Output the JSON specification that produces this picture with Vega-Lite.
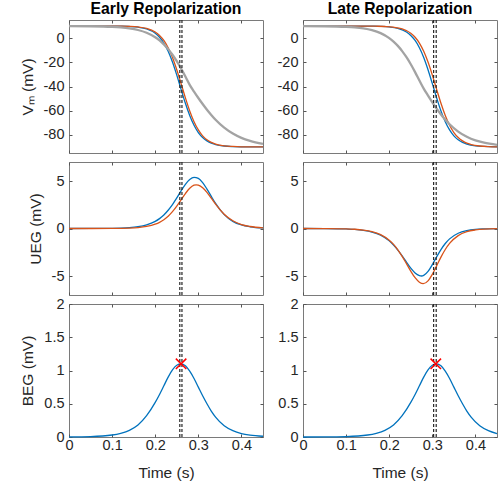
{
"$schema": "https://vega.github.io/schema/vega-lite/v6.json",
"autosize": {"type": "pad"},
"padding": {"left": 19, "top": 0, "right": 3, "bottom": 2},
"background": "white",
"config": {
  "view": {"stroke": "#7a7a7a", "strokeWidth": 1},
  "axis": {"grid": false, "domain": false, "ticks": true, "tickSize": -3, "tickColor": "#555555", "tickWidth": 1,
    "labelFont": "Liberation Sans", "labelFontSize": 14.5, "labelColor": "#262626",
    "labelFlush": false, "labelOverlap": false,
    "titleFont": "Liberation Sans", "titleFontSize": 15.5, "titleFontWeight": "normal", "titleColor": "#262626"},
  "axisX": {"labelPadding": 4, "titlePadding": 14},
  "axisY": {"labelPadding": 8, "titlePadding": 8},
  "title": {"font": "Liberation Sans", "fontSize": 15.7, "fontWeight": "bold", "color": "#000000", "offset": 2}
},
"datasets": {
  "vmEb": [{"t":0,"v":10},{"t":0.05,"v":10},{"t":0.1,"v":9.95},{"t":0.12,"v":9.86},{"t":0.14,"v":9.64},{"t":0.16,"v":9.07},{"t":0.18,"v":7.62},{"t":0.2,"v":4.06},{"t":0.21,"v":0.77},{"t":0.22,"v":-4.06},{"t":0.23,"v":-10.87},{"t":0.24,"v":-19.8},{"t":0.25,"v":-30.6},{"t":0.26,"v":-42.4},{"t":0.27,"v":-53.9},{"t":0.28,"v":-64},{"t":0.29,"v":-72.1},{"t":0.3,"v":-78.1},{"t":0.31,"v":-82.2},{"t":0.32,"v":-85},{"t":0.33,"v":-86.9},{"t":0.34,"v":-88},{"t":0.36,"v":-89.2},{"t":0.38,"v":-89.7},{"t":0.4,"v":-89.9},{"t":0.42,"v":-90},{"t":0.45,"v":-90}],
  "vmEo": [{"t":0,"v":10},{"t":0.05,"v":10},{"t":0.1,"v":9.96},{"t":0.12,"v":9.88},{"t":0.14,"v":9.7},{"t":0.16,"v":9.23},{"t":0.18,"v":8.03},{"t":0.2,"v":5.04},{"t":0.21,"v":2.24},{"t":0.22,"v":-1.92},{"t":0.23,"v":-7.89},{"t":0.24,"v":-15.96},{"t":0.25,"v":-26.1},{"t":0.26,"v":-37.6},{"t":0.27,"v":-49.4},{"t":0.28,"v":-60.2},{"t":0.29,"v":-69.1},{"t":0.3,"v":-75.9},{"t":0.31,"v":-80.8},{"t":0.32,"v":-84.1},{"t":0.33,"v":-86.2},{"t":0.34,"v":-87.6},{"t":0.36,"v":-89.1},{"t":0.38,"v":-89.6},{"t":0.4,"v":-89.9},{"t":0.42,"v":-90},{"t":0.45,"v":-90}],
  "vmEg": [{"t":0,"v":9.96},{"t":0.05,"v":9.84},{"t":0.1,"v":9.37},{"t":0.12,"v":8.9},{"t":0.14,"v":8.1},{"t":0.16,"v":6.73},{"t":0.18,"v":4.44},{"t":0.2,"v":0.7},{"t":0.21,"v":-1.92},{"t":0.22,"v":-5.15},{"t":0.23,"v":-9.08},{"t":0.24,"v":-13.75},{"t":0.25,"v":-19.1},{"t":0.26,"v":-25.2},{"t":0.27,"v":-31.7},{"t":0.28,"v":-38.6},{"t":0.29,"v":-44.2},{"t":0.3,"v":-49.5},{"t":0.31,"v":-54.5},{"t":0.32,"v":-59.2},{"t":0.33,"v":-63.5},{"t":0.34,"v":-67.5},{"t":0.36,"v":-74},{"t":0.38,"v":-78.9},{"t":0.4,"v":-82.5},{"t":0.42,"v":-85},{"t":0.45,"v":-87.5}],
  "vmLb": [{"t":0,"v":10},{"t":0.1,"v":10},{"t":0.14,"v":9.96},{"t":0.16,"v":9.88},{"t":0.18,"v":9.7},{"t":0.2,"v":9.23},{"t":0.22,"v":8.03},{"t":0.24,"v":5.04},{"t":0.25,"v":2.24},{"t":0.26,"v":-1.92},{"t":0.27,"v":-7.89},{"t":0.28,"v":-15.96},{"t":0.29,"v":-26.1},{"t":0.3,"v":-37.6},{"t":0.31,"v":-49.4},{"t":0.32,"v":-60.2},{"t":0.33,"v":-69.1},{"t":0.34,"v":-75.9},{"t":0.35,"v":-80.8},{"t":0.36,"v":-84.1},{"t":0.37,"v":-86.2},{"t":0.38,"v":-87.6},{"t":0.4,"v":-89.1},{"t":0.42,"v":-89.6},{"t":0.45,"v":-89.9}],
  "vmLo": [{"t":0,"v":10},{"t":0.1,"v":10},{"t":0.15,"v":9.95},{"t":0.17,"v":9.86},{"t":0.19,"v":9.64},{"t":0.21,"v":9.07},{"t":0.23,"v":7.62},{"t":0.25,"v":4.06},{"t":0.26,"v":0.77},{"t":0.27,"v":-4.06},{"t":0.28,"v":-10.87},{"t":0.29,"v":-19.8},{"t":0.3,"v":-30.6},{"t":0.31,"v":-42.4},{"t":0.32,"v":-53.9},{"t":0.33,"v":-64},{"t":0.34,"v":-72.1},{"t":0.35,"v":-78.1},{"t":0.36,"v":-82.2},{"t":0.37,"v":-85},{"t":0.38,"v":-86.9},{"t":0.39,"v":-88},{"t":0.41,"v":-89.2},{"t":0.43,"v":-89.7},{"t":0.45,"v":-89.9}],
  "vmLg": [{"t":0,"v":9.96},{"t":0.05,"v":9.85},{"t":0.1,"v":9.37},{"t":0.12,"v":8.89},{"t":0.14,"v":8.04},{"t":0.16,"v":6.59},{"t":0.18,"v":4.11},{"t":0.2,"v":0.02},{"t":0.21,"v":-2.85},{"t":0.22,"v":-6.4},{"t":0.23,"v":-10.7},{"t":0.24,"v":-15.8},{"t":0.25,"v":-21.6},{"t":0.26,"v":-28.1},{"t":0.27,"v":-35},{"t":0.28,"v":-41.7},{"t":0.29,"v":-47.5},{"t":0.3,"v":-53.1},{"t":0.31,"v":-58.3},{"t":0.32,"v":-63.1},{"t":0.33,"v":-67.4},{"t":0.34,"v":-71.2},{"t":0.36,"v":-77.3},{"t":0.38,"v":-81.6},{"t":0.4,"v":-84.6},{"t":0.42,"v":-86.5},{"t":0.45,"v":-88.2}],
  "uEb": [{"t":0,"v":0},{"t":0.05,"v":0.004},{"t":0.1,"v":0.023},{"t":0.12,"v":0.046},{"t":0.14,"v":0.094},{"t":0.16,"v":0.19},{"t":0.18,"v":0.38},{"t":0.2,"v":0.75},{"t":0.21,"v":1.04},{"t":0.22,"v":1.42},{"t":0.23,"v":1.92},{"t":0.24,"v":2.51},{"t":0.25,"v":3.22},{"t":0.26,"v":3.96},{"t":0.27,"v":4.65},{"t":0.28,"v":5.16},{"t":0.29,"v":5.39},{"t":0.3,"v":5.28},{"t":0.31,"v":4.83},{"t":0.32,"v":4.15},{"t":0.33,"v":3.39},{"t":0.34,"v":2.64},{"t":0.36,"v":1.46},{"t":0.38,"v":0.75},{"t":0.4,"v":0.37},{"t":0.42,"v":0.18},{"t":0.45,"v":0.06}],
  "uEo": [{"t":0,"v":0},{"t":0.05,"v":0.002},{"t":0.1,"v":0.01},{"t":0.12,"v":0.022},{"t":0.14,"v":0.047},{"t":0.16,"v":0.101},{"t":0.18,"v":0.216},{"t":0.2,"v":0.455},{"t":0.21,"v":0.65},{"t":0.22,"v":0.92},{"t":0.23,"v":1.29},{"t":0.24,"v":1.77},{"t":0.25,"v":2.35},{"t":0.26,"v":3.02},{"t":0.27,"v":3.68},{"t":0.28,"v":4.24},{"t":0.29,"v":4.56},{"t":0.295,"v":4.6},{"t":0.3,"v":4.56},{"t":0.31,"v":4.29},{"t":0.32,"v":3.8},{"t":0.33,"v":3.19},{"t":0.34,"v":2.56},{"t":0.36,"v":1.5},{"t":0.38,"v":0.81},{"t":0.4,"v":0.41},{"t":0.42,"v":0.21},{"t":0.45,"v":0.07}],
  "uLb": [{"t":0,"v":0},{"t":0.05,"v":-0.01},{"t":0.1,"v":-0.05},{"t":0.12,"v":-0.09},{"t":0.14,"v":-0.19},{"t":0.16,"v":-0.37},{"t":0.18,"v":-0.7},{"t":0.2,"v":-1.3},{"t":0.21,"v":-1.74},{"t":0.22,"v":-2.27},{"t":0.23,"v":-2.88},{"t":0.24,"v":-3.54},{"t":0.25,"v":-4.18},{"t":0.26,"v":-4.68},{"t":0.27,"v":-4.96},{"t":0.275,"v":-5},{"t":0.28,"v":-4.94},{"t":0.29,"v":-4.52},{"t":0.3,"v":-3.8},{"t":0.31,"v":-2.98},{"t":0.32,"v":-2.22},{"t":0.33,"v":-1.58},{"t":0.34,"v":-1.09},{"t":0.36,"v":-0.5},{"t":0.38,"v":-0.22},{"t":0.4,"v":-0.09},{"t":0.42,"v":-0.04},{"t":0.45,"v":-0.01}],
  "uLo": [{"t":0,"v":0},{"t":0.05,"v":-0.01},{"t":0.1,"v":-0.04},{"t":0.12,"v":-0.08},{"t":0.14,"v":-0.16},{"t":0.16,"v":-0.32},{"t":0.18,"v":-0.64},{"t":0.2,"v":-1.23},{"t":0.21,"v":-1.67},{"t":0.22,"v":-2.24},{"t":0.23,"v":-2.93},{"t":0.24,"v":-3.7},{"t":0.25,"v":-4.49},{"t":0.26,"v":-5.18},{"t":0.27,"v":-5.65},{"t":0.279,"v":-5.8},{"t":0.29,"v":-5.51},{"t":0.3,"v":-4.82},{"t":0.31,"v":-3.93},{"t":0.32,"v":-3.01},{"t":0.33,"v":-2.21},{"t":0.34,"v":-1.57},{"t":0.36,"v":-0.75},{"t":0.38,"v":-0.34},{"t":0.4,"v":-0.15},{"t":0.42,"v":-0.06},{"t":0.45,"v":-0.02}],
  "bE": [{"t":0,"v":0.001},{"t":0.05,"v":0.006},{"t":0.1,"v":0.03},{"t":0.12,"v":0.056},{"t":0.14,"v":0.1},{"t":0.16,"v":0.18},{"t":0.18,"v":0.32},{"t":0.2,"v":0.52},{"t":0.21,"v":0.64},{"t":0.22,"v":0.77},{"t":0.23,"v":0.9},{"t":0.24,"v":1.01},{"t":0.25,"v":1.08},{"t":0.26,"v":1.1},{"t":0.27,"v":1.07},{"t":0.28,"v":0.99},{"t":0.29,"v":0.88},{"t":0.3,"v":0.75},{"t":0.31,"v":0.62},{"t":0.32,"v":0.5},{"t":0.33,"v":0.39},{"t":0.34,"v":0.3},{"t":0.36,"v":0.17},{"t":0.38,"v":0.096},{"t":0.4,"v":0.052},{"t":0.42,"v":0.028},{"t":0.45,"v":0.011}],
  "bL": [{"t":0,"v":0},{"t":0.05,"v":0.001},{"t":0.1,"v":0.006},{"t":0.15,"v":0.03},{"t":0.17,"v":0.056},{"t":0.19,"v":0.1},{"t":0.21,"v":0.18},{"t":0.23,"v":0.32},{"t":0.25,"v":0.52},{"t":0.26,"v":0.64},{"t":0.27,"v":0.77},{"t":0.28,"v":0.9},{"t":0.29,"v":1.01},{"t":0.3,"v":1.08},{"t":0.31,"v":1.1},{"t":0.32,"v":1.07},{"t":0.33,"v":0.99},{"t":0.34,"v":0.88},{"t":0.35,"v":0.75},{"t":0.36,"v":0.62},{"t":0.37,"v":0.5},{"t":0.38,"v":0.39},{"t":0.39,"v":0.3},{"t":0.41,"v":0.17},{"t":0.43,"v":0.096},{"t":0.45,"v":0.052}],
  "dE": [{"t":0.257},{"t":0.262}],
  "dL": [{"t":0.303},{"t":0.309}],
  "xE": [{"t":0.26,"v":1.1}],
  "xL": [{"t":0.308,"v":1.1}]
},
"columns": 2,
"bounds": "flush",
"spacing": {"row": 9, "column": 40},
"concat": [
 {"width":194,"height":133,"title":{"text":"Early Repolarization"},
  "layer":[
   {"data":{"name":"vmEb"},"mark":{"type":"line","color":"#0072BD","strokeWidth":1.3,"interpolate":"monotone"},
    "encoding":{"x":{"field":"t","type":"quantitative","scale":{"domain":[0,0.45],"nice":false},"axis":{"values":[0,0.1,0.2,0.3,0.4],"labels":false,"title":null}},
                "y":{"field":"v","type":"quantitative","scale":{"domain":[-95,15],"nice":false,"zero":false},"axis":{"values":[-80,-60,-40,-20,0],"title":"Vₘ (mV)","labelExpr":"'' + datum.value"}}}},
   {"data":{"name":"vmEo"},"mark":{"type":"line","color":"#D95319","strokeWidth":1.3,"interpolate":"monotone"},
    "encoding":{"x":{"field":"t","type":"quantitative","scale":{"domain":[0,0.45],"nice":false},"axis":null},"y":{"field":"v","type":"quantitative","scale":{"domain":[-95,15],"nice":false,"zero":false},"axis":null}}},
   {"data":{"name":"vmEg"},"mark":{"type":"line","color":"#A3A3A3","strokeWidth":2.3,"interpolate":"monotone"},
    "encoding":{"x":{"field":"t","type":"quantitative","scale":{"domain":[0,0.45],"nice":false},"axis":null},"y":{"field":"v","type":"quantitative","scale":{"domain":[-95,15],"nice":false,"zero":false},"axis":null}}},
   {"data":{"name":"dE"},"mark":{"type":"rule","color":"#262626","strokeWidth":1.2,"strokeDash":[3,2]},
    "encoding":{"x":{"field":"t","type":"quantitative","scale":{"domain":[0,0.45],"nice":false},"axis":null}}},
   {"data":{"name":"vmEb"},"mark":{"type":"line","opacity":0},
    "encoding":{"x":{"field":"t","type":"quantitative","scale":{"domain":[0,0.45],"nice":false},"axis":{"orient":"top","values":[0,0.1,0.2,0.3,0.4],"labels":false,"title":null}},
                "y":{"field":"v","type":"quantitative","scale":{"domain":[-95,15],"nice":false,"zero":false},"axis":{"orient":"right","values":[-80,-60,-40,-20,0],"labels":false,"title":null}}}}
  ],
  "resolve":{"axis":{"x":"independent","y":"independent"}}},
 {"width":194,"height":133,"title":{"text":"Late Repolarization"},
  "layer":[
   {"data":{"name":"vmLb"},"mark":{"type":"line","color":"#0072BD","strokeWidth":1.3,"interpolate":"monotone"},
    "encoding":{"x":{"field":"t","type":"quantitative","scale":{"domain":[0,0.45],"nice":false},"axis":{"values":[0,0.1,0.2,0.3,0.4],"labels":false,"title":null}},
                "y":{"field":"v","type":"quantitative","scale":{"domain":[-95,15],"nice":false,"zero":false},"axis":{"values":[-80,-60,-40,-20,0],"title":null,"labelExpr":"'' + datum.value"}}}},
   {"data":{"name":"vmLo"},"mark":{"type":"line","color":"#D95319","strokeWidth":1.3,"interpolate":"monotone"},
    "encoding":{"x":{"field":"t","type":"quantitative","scale":{"domain":[0,0.45],"nice":false},"axis":null},"y":{"field":"v","type":"quantitative","scale":{"domain":[-95,15],"nice":false,"zero":false},"axis":null}}},
   {"data":{"name":"vmLg"},"mark":{"type":"line","color":"#A3A3A3","strokeWidth":2.3,"interpolate":"monotone"},
    "encoding":{"x":{"field":"t","type":"quantitative","scale":{"domain":[0,0.45],"nice":false},"axis":null},"y":{"field":"v","type":"quantitative","scale":{"domain":[-95,15],"nice":false,"zero":false},"axis":null}}},
   {"data":{"name":"dL"},"mark":{"type":"rule","color":"#262626","strokeWidth":1.2,"strokeDash":[3,2]},
    "encoding":{"x":{"field":"t","type":"quantitative","scale":{"domain":[0,0.45],"nice":false},"axis":null}}},
   {"data":{"name":"vmLb"},"mark":{"type":"line","opacity":0},
    "encoding":{"x":{"field":"t","type":"quantitative","scale":{"domain":[0,0.45],"nice":false},"axis":{"orient":"top","values":[0,0.1,0.2,0.3,0.4],"labels":false,"title":null}},
                "y":{"field":"v","type":"quantitative","scale":{"domain":[-95,15],"nice":false,"zero":false},"axis":{"orient":"right","values":[-80,-60,-40,-20,0],"labels":false,"title":null}}}}
  ],
  "resolve":{"axis":{"x":"independent","y":"independent"}}},
 {"width":194,"height":133,
  "layer":[
   {"data":{"name":"uEb"},"mark":{"type":"line","color":"#0072BD","strokeWidth":1.3,"interpolate":"monotone"},
    "encoding":{"x":{"field":"t","type":"quantitative","scale":{"domain":[0,0.45],"nice":false},"axis":{"values":[0,0.1,0.2,0.3,0.4],"labels":false,"title":null}},
                "y":{"field":"v","type":"quantitative","scale":{"domain":[-7,7],"nice":false,"zero":false},"axis":{"values":[-5,0,5],"title":"UEG (mV)","labelExpr":"'' + datum.value"}}}},
   {"data":{"name":"uEo"},"mark":{"type":"line","color":"#D95319","strokeWidth":1.3,"interpolate":"monotone"},
    "encoding":{"x":{"field":"t","type":"quantitative","scale":{"domain":[0,0.45],"nice":false},"axis":null},"y":{"field":"v","type":"quantitative","scale":{"domain":[-7,7],"nice":false,"zero":false},"axis":null}}},
   {"data":{"name":"dE"},"mark":{"type":"rule","color":"#262626","strokeWidth":1.2,"strokeDash":[3,2]},
    "encoding":{"x":{"field":"t","type":"quantitative","scale":{"domain":[0,0.45],"nice":false},"axis":null}}},
   {"data":{"name":"uEb"},"mark":{"type":"line","opacity":0},
    "encoding":{"x":{"field":"t","type":"quantitative","scale":{"domain":[0,0.45],"nice":false},"axis":{"orient":"top","values":[0,0.1,0.2,0.3,0.4],"labels":false,"title":null}},
                "y":{"field":"v","type":"quantitative","scale":{"domain":[-7,7],"nice":false,"zero":false},"axis":{"orient":"right","values":[-5,0,5],"labels":false,"title":null}}}}
  ],
  "resolve":{"axis":{"x":"independent","y":"independent"}}},
 {"width":194,"height":133,
  "layer":[
   {"data":{"name":"uLb"},"mark":{"type":"line","color":"#0072BD","strokeWidth":1.3,"interpolate":"monotone"},
    "encoding":{"x":{"field":"t","type":"quantitative","scale":{"domain":[0,0.45],"nice":false},"axis":{"values":[0,0.1,0.2,0.3,0.4],"labels":false,"title":null}},
                "y":{"field":"v","type":"quantitative","scale":{"domain":[-7,7],"nice":false,"zero":false},"axis":{"values":[-5,0,5],"title":null,"labelExpr":"'' + datum.value"}}}},
   {"data":{"name":"uLo"},"mark":{"type":"line","color":"#D95319","strokeWidth":1.3,"interpolate":"monotone"},
    "encoding":{"x":{"field":"t","type":"quantitative","scale":{"domain":[0,0.45],"nice":false},"axis":null},"y":{"field":"v","type":"quantitative","scale":{"domain":[-7,7],"nice":false,"zero":false},"axis":null}}},
   {"data":{"name":"dL"},"mark":{"type":"rule","color":"#262626","strokeWidth":1.2,"strokeDash":[3,2]},
    "encoding":{"x":{"field":"t","type":"quantitative","scale":{"domain":[0,0.45],"nice":false},"axis":null}}},
   {"data":{"name":"uLb"},"mark":{"type":"line","opacity":0},
    "encoding":{"x":{"field":"t","type":"quantitative","scale":{"domain":[0,0.45],"nice":false},"axis":{"orient":"top","values":[0,0.1,0.2,0.3,0.4],"labels":false,"title":null}},
                "y":{"field":"v","type":"quantitative","scale":{"domain":[-7,7],"nice":false,"zero":false},"axis":{"orient":"right","values":[-5,0,5],"labels":false,"title":null}}}}
  ],
  "resolve":{"axis":{"x":"independent","y":"independent"}}},
 {"width":194,"height":133,
  "layer":[
   {"data":{"name":"bE"},"mark":{"type":"line","color":"#0072BD","strokeWidth":1.3,"interpolate":"monotone"},
    "encoding":{"x":{"field":"t","type":"quantitative","scale":{"domain":[0,0.45],"nice":false},"axis":{"values":[0,0.1,0.2,0.3,0.4],"title":"Time (s)","labelExpr":"'' + datum.value"}},
                "y":{"field":"v","type":"quantitative","scale":{"domain":[0,2],"nice":false,"zero":false},"axis":{"values":[0,0.5,1,1.5,2],"title":"BEG (mV)","labelExpr":"'' + datum.value"}}}},
   {"data":{"name":"dE"},"mark":{"type":"rule","color":"#262626","strokeWidth":1.2,"strokeDash":[3,2]},
    "encoding":{"x":{"field":"t","type":"quantitative","scale":{"domain":[0,0.45],"nice":false},"axis":null}}},
   {"data":{"name":"xE"},"mark":{"type":"point","shape":"M-1,-1L1,1M-1,1L1,-1","size":110,"filled":false,"stroke":"#FF0000","strokeWidth":1.5,"opacity":1},
    "encoding":{"x":{"field":"t","type":"quantitative","scale":{"domain":[0,0.45],"nice":false},"axis":null},"y":{"field":"v","type":"quantitative","scale":{"domain":[0,2],"nice":false,"zero":false},"axis":null}}},
   {"data":{"name":"bE"},"mark":{"type":"line","opacity":0},
    "encoding":{"x":{"field":"t","type":"quantitative","scale":{"domain":[0,0.45],"nice":false},"axis":{"orient":"top","values":[0,0.1,0.2,0.3,0.4],"labels":false,"title":null}},
                "y":{"field":"v","type":"quantitative","scale":{"domain":[0,2],"nice":false,"zero":false},"axis":{"orient":"right","values":[0,0.5,1,1.5,2],"labels":false,"title":null}}}}
  ],
  "resolve":{"axis":{"x":"independent","y":"independent"}}},
 {"width":194,"height":133,
  "layer":[
   {"data":{"name":"bL"},"mark":{"type":"line","color":"#0072BD","strokeWidth":1.3,"interpolate":"monotone"},
    "encoding":{"x":{"field":"t","type":"quantitative","scale":{"domain":[0,0.45],"nice":false},"axis":{"values":[0,0.1,0.2,0.3,0.4],"title":"Time (s)","labelExpr":"'' + datum.value"}},
                "y":{"field":"v","type":"quantitative","scale":{"domain":[0,2],"nice":false,"zero":false},"axis":{"values":[0,0.5,1,1.5,2],"title":null,"labelExpr":"'' + datum.value"}}}},
   {"data":{"name":"dL"},"mark":{"type":"rule","color":"#262626","strokeWidth":1.2,"strokeDash":[3,2]},
    "encoding":{"x":{"field":"t","type":"quantitative","scale":{"domain":[0,0.45],"nice":false},"axis":null}}},
   {"data":{"name":"xL"},"mark":{"type":"point","shape":"M-1,-1L1,1M-1,1L1,-1","size":110,"filled":false,"stroke":"#FF0000","strokeWidth":1.5,"opacity":1},
    "encoding":{"x":{"field":"t","type":"quantitative","scale":{"domain":[0,0.45],"nice":false},"axis":null},"y":{"field":"v","type":"quantitative","scale":{"domain":[0,2],"nice":false,"zero":false},"axis":null}}},
   {"data":{"name":"bL"},"mark":{"type":"line","opacity":0},
    "encoding":{"x":{"field":"t","type":"quantitative","scale":{"domain":[0,0.45],"nice":false},"axis":{"orient":"top","values":[0,0.1,0.2,0.3,0.4],"labels":false,"title":null}},
                "y":{"field":"v","type":"quantitative","scale":{"domain":[0,2],"nice":false,"zero":false},"axis":{"orient":"right","values":[0,0.5,1,1.5,2],"labels":false,"title":null}}}}
  ],
  "resolve":{"axis":{"x":"independent","y":"independent"}}}
]
}
